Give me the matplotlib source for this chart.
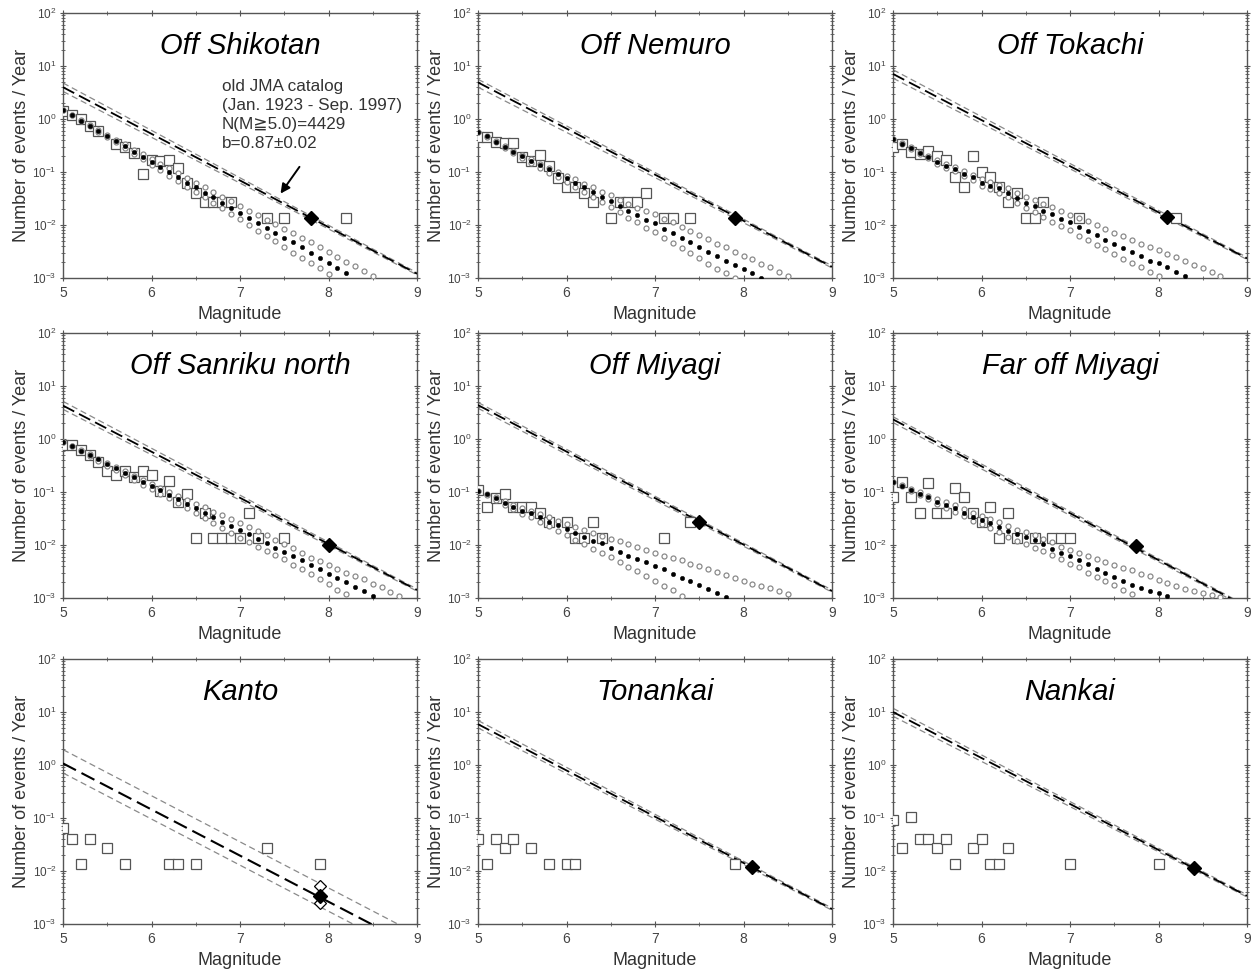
import numpy as np
import matplotlib
matplotlib.use("Agg")
import matplotlib.pyplot as plt
from matplotlib.ticker import LogLocator, MultipleLocator, NullFormatter

plt.rcParams['font.family'] = ['Liberation Sans', 'DejaVu Sans']

# ---------------------------------------------------------------------------
# data: squares = observed rate (events / year), dot series = log10 rate
# at magnitudes 5.0, 5.1, 5.2 ... ; lines = log10 rate at M5 and M9
# ---------------------------------------------------------------------------

# Off Shikotan
SHIKOTAN_SQ_M = [5.0, 5.1, 5.2, 5.3, 5.4, 5.6, 5.7, 5.8, 5.9, 6.0, 6.1, 6.2, 6.3,
                 6.4, 6.5, 6.6, 6.7, 6.8, 6.9, 7.3, 7.5, 8.2]
SHIKOTAN_SQ_N = [1.40, 1.20, 1.00, 0.75, 0.60, 0.34, 0.30, 0.23, 0.093, 0.17,
                 0.16, 0.17, 0.12, 0.063, 0.04, 0.027, 0.027, 0.027, 0.027,
                 0.0133, 0.0133, 0.0133]
SHIKOTAN_MEAN = [0.17, 0.08, -0.03, -0.13, -0.22, -0.32, -0.41, -0.51, -0.62,
                 -0.71, -0.81, -0.90, -1.00, -1.09, -1.21, -1.29, -1.39, -1.48,
                 -1.58, -1.67, -1.77, -1.86, -1.96, -2.05, -2.15, -2.24, -2.33,
                 -2.42, -2.52, -2.62, -2.71, -2.81, -2.90]
SHIKOTAN_UPPER = [0.17, 0.08, -0.02, -0.12, -0.21, -0.30, -0.39, -0.48, -0.58,
                  -0.66, -0.75, -0.84, -0.93, -1.02, -1.11, -1.20, -1.28, -1.37,
                  -1.47, -1.55, -1.64, -1.73, -1.82, -1.91, -1.99, -2.07, -2.16,
                  -2.25, -2.33, -2.42, -2.50, -2.60, -2.69, -2.77, -2.86, -2.96]
SHIKOTAN_LOWER = [0.17, 0.07, -0.04, -0.14, -0.24, -0.34, -0.44, -0.55, -0.66,
                  -0.76, -0.87, -0.97, -1.07, -1.17, -1.28, -1.38, -1.48, -1.58,
                  -1.68, -1.79, -1.89, -2.00, -2.11, -2.21, -2.31, -2.42, -2.52,
                  -2.62, -2.72, -2.82, -2.93]
SHIKOTAN_LINE = [0.60, -2.92]
SHIKOTAN_LINE_UP = [0.68, -2.90]
SHIKOTAN_LINE_LO = [0.52, -2.94]
SHIKOTAN_CHAR = [7.8, 0.0133]

# Off Nemuro
NEMURO_SQ_M = [5.0, 5.1, 5.2, 5.3, 5.4, 5.5, 5.6, 5.7, 5.8, 5.9, 6.0, 6.1, 6.2,
               6.3, 6.5, 6.6, 6.7, 6.8, 6.9, 7.1, 7.2, 7.4]
NEMURO_SQ_N = [0.45, 0.45, 0.37, 0.36, 0.36, 0.195, 0.16, 0.21, 0.13, 0.077,
               0.052, 0.052, 0.04, 0.027, 0.0133, 0.027, 0.027, 0.027, 0.04,
               0.0133, 0.0133, 0.0133]
NEMURO_MEAN = [-0.24, -0.33, -0.43, -0.52, -0.62, -0.70, -0.79, -0.87, -0.95,
               -1.04, -1.12, -1.20, -1.29, -1.37, -1.47, -1.55, -1.64, -1.73,
               -1.81, -1.90, -1.97, -2.07, -2.16, -2.24, -2.32, -2.41, -2.50,
               -2.58, -2.67, -2.75, -2.83, -2.91, -3.00]
NEMURO_UPPER = [-0.24, -0.33, -0.42, -0.51, -0.60, -0.68, -0.76, -0.84, -0.92,
                -1.00, -1.07, -1.14, -1.22, -1.29, -1.37, -1.44, -1.52, -1.60,
                -1.67, -1.73, -1.80, -1.88, -1.95, -2.04, -2.12, -2.18, -2.27,
                -2.35, -2.42, -2.51, -2.58, -2.65, -2.73, -2.80, -2.89, -2.96]
NEMURO_LOWER = [-0.24, -0.34, -0.44, -0.54, -0.64, -0.73, -0.83, -0.92, -1.01,
                -1.10, -1.19, -1.28, -1.38, -1.47, -1.57, -1.66, -1.76, -1.86,
                -1.95, -2.05, -2.13, -2.24, -2.34, -2.43, -2.53, -2.62, -2.73,
                -2.83, -2.91, -3.00]
NEMURO_LINE = [0.69, -2.79]
NEMURO_LINE_UP = [0.75, -2.77]
NEMURO_LINE_LO = [0.60, -2.81]
NEMURO_CHAR = [7.9, 0.0135]

# Off Tokachi
TOKACHI_SQ_M = [5.0, 5.1, 5.2, 5.3, 5.4, 5.5, 5.6, 5.7, 5.8, 5.9, 6.0, 6.1, 6.2,
                6.3, 6.4, 6.5, 6.6, 6.7, 7.1, 8.2]
TOKACHI_SQ_N = [0.30, 0.34, 0.24, 0.22, 0.25, 0.20, 0.17, 0.08, 0.053, 0.20,
                0.10, 0.08, 0.053, 0.027, 0.04, 0.0133, 0.0133, 0.027, 0.0133,
                0.0133]
TOKACHI_MEAN = [-0.38, -0.47, -0.54, -0.64, -0.71, -0.81, -0.88, -0.94, -1.03,
                -1.09, -1.20, -1.26, -1.31, -1.39, -1.49, -1.58, -1.65, -1.73,
                -1.80, -1.88, -1.95, -2.04, -2.11, -2.19, -2.28, -2.35, -2.43,
                -2.51, -2.58, -2.67, -2.72, -2.80, -2.89, -2.97]
TOKACHI_UPPER = [-0.38, -0.46, -0.53, -0.62, -0.69, -0.78, -0.85, -0.91, -0.99,
                 -1.05, -1.14, -1.19, -1.24, -1.31, -1.39, -1.47, -1.53, -1.60,
                 -1.66, -1.74, -1.81, -1.86, -1.93, -2.00, -2.07, -2.15, -2.21,
                 -2.28, -2.35, -2.41, -2.48, -2.55, -2.61, -2.68, -2.75, -2.82,
                 -2.89, -2.96]
TOKACHI_LOWER = [-0.38, -0.48, -0.56, -0.66, -0.74, -0.84, -0.92, -0.99, -1.08,
                 -1.15, -1.26, -1.33, -1.39, -1.48, -1.58, -1.67, -1.76, -1.85,
                 -1.94, -2.02, -2.10, -2.20, -2.28, -2.37, -2.46, -2.55, -2.65,
                 -2.72, -2.80, -2.89, -2.97]
TOKACHI_LINE = [0.85, -2.63]
TOKACHI_LINE_UP = [0.93, -2.61]
TOKACHI_LINE_LO = [0.77, -2.65]
TOKACHI_CHAR = [8.1, 0.014]

# Off Sanriku north
SANRIKU_SQ_M = [5.0, 5.1, 5.2, 5.3, 5.4, 5.5, 5.6, 5.7, 5.8, 5.9, 6.0, 6.1, 6.2,
                6.3, 6.4, 6.5, 6.6, 6.7, 6.8, 6.9, 7.0, 7.1, 7.2, 7.5]
SANRIKU_SQ_N = [0.78, 0.78, 0.62, 0.50, 0.37, 0.25, 0.21, 0.25, 0.195, 0.25,
                0.21, 0.105, 0.16, 0.066, 0.091, 0.0133, 0.04, 0.0133, 0.0133,
                0.0133, 0.0133, 0.04, 0.0133, 0.0133]
SANRIKU_MEAN = [-0.05, -0.13, -0.22, -0.30, -0.38, -0.47, -0.55, -0.64, -0.72,
                -0.81, -0.89, -0.96, -1.05, -1.13, -1.22, -1.31, -1.39, -1.48,
                -1.56, -1.64, -1.72, -1.80, -1.88, -1.96, -2.05, -2.13, -2.21,
                -2.29, -2.37, -2.45, -2.54, -2.62, -2.70, -2.79, -2.87, -2.96]
SANRIKU_UPPER = [-0.05, -0.13, -0.21, -0.29, -0.37, -0.45, -0.53, -0.61, -0.69,
                 -0.77, -0.85, -0.92, -1.00, -1.07, -1.15, -1.22, -1.29, -1.37,
                 -1.44, -1.51, -1.58, -1.66, -1.73, -1.81, -1.91, -1.98, -2.05,
                 -2.16, -2.24, -2.31, -2.38, -2.45, -2.52, -2.59, -2.65, -2.73,
                 -2.79, -2.89, -2.96]
SANRIKU_LOWER = [-0.05, -0.14, -0.23, -0.32, -0.41, -0.50, -0.59, -0.68, -0.77,
                 -0.86, -0.95, -1.03, -1.12, -1.21, -1.30, -1.40, -1.49, -1.58,
                 -1.68, -1.77, -1.86, -1.95, -2.04, -2.12, -2.19, -2.27, -2.37,
                 -2.46, -2.55, -2.65, -2.74, -2.84, -2.93]
SANRIKU_LINE = [0.63, -2.85]
SANRIKU_LINE_UP = [0.71, -2.83]
SANRIKU_LINE_LO = [0.56, -2.87]
SANRIKU_CHAR = [8.0, 0.0102]

# Off Miyagi
MIYAGI_SQ_M = [5.0, 5.1, 5.2, 5.3, 5.4, 5.5, 5.6, 5.7, 5.8, 6.0, 6.1, 6.2, 6.3,
               6.4, 7.1, 7.4]
MIYAGI_SQ_N = [0.107, 0.053, 0.076, 0.091, 0.053, 0.053, 0.053, 0.04, 0.027,
               0.027, 0.0133, 0.0133, 0.027, 0.0133, 0.0133, 0.027]
MIYAGI_MEAN = [-0.99, -1.04, -1.12, -1.20, -1.28, -1.35, -1.40, -1.48, -1.56,
               -1.63, -1.69, -1.77, -1.85, -1.92, -1.97, -2.06, -2.13, -2.20,
               -2.26, -2.33, -2.40, -2.46, -2.55, -2.62, -2.68, -2.76, -2.83,
               -2.90, -2.98]
MIYAGI_UPPER = [-0.99, -1.03, -1.10, -1.17, -1.24, -1.30, -1.35, -1.42, -1.48,
                -1.54, -1.60, -1.66, -1.72, -1.78, -1.83, -1.88, -1.93, -1.99,
                -2.04, -2.10, -2.15, -2.20, -2.24, -2.29, -2.36, -2.40, -2.45,
                -2.51, -2.56, -2.62, -2.67, -2.73, -2.78, -2.82, -2.87, -2.93]
MIYAGI_LOWER = [-0.99, -1.06, -1.15, -1.24, -1.33, -1.41, -1.48, -1.57, -1.65,
                -1.74, -1.82, -1.91, -1.99, -2.07, -2.15, -2.23, -2.33, -2.42,
                -2.49, -2.58, -2.68, -2.77, -2.85, -2.96]
MIYAGI_LINE = [0.64, -2.87]
MIYAGI_LINE_UP = [0.69, -2.85]
MIYAGI_LINE_LO = [0.58, -2.89]
MIYAGI_CHAR = [7.5, 0.0266]

# Far off Miyagi
FARMIYAGI_SQ_M = [5.0, 5.1, 5.2, 5.3, 5.4, 5.5, 5.6, 5.7, 5.8, 5.9, 6.0, 6.1,
                  6.2, 6.3, 6.4, 6.6, 6.8, 6.9, 7.0]
FARMIYAGI_SQ_N = [0.08, 0.155, 0.08, 0.04, 0.145, 0.04, 0.04, 0.117, 0.08, 0.04,
                  0.027, 0.053, 0.0133, 0.04, 0.0133, 0.0133, 0.0133, 0.0133,
                  0.0133]
FARMIYAGI_MEAN = [-0.82, -0.88, -0.96, -1.03, -1.10, -1.18, -1.25, -1.31, -1.39,
                  -1.47, -1.53, -1.59, -1.66, -1.73, -1.80, -1.85, -1.91, -1.99,
                  -2.07, -2.15, -2.21, -2.29, -2.36, -2.45, -2.52, -2.60, -2.68,
                  -2.75, -2.82, -2.87, -2.91, -2.97]
FARMIYAGI_UPPER = [-0.82, -0.87, -0.94, -1.00, -1.07, -1.13, -1.19, -1.25,
                   -1.32, -1.39, -1.45, -1.51, -1.57, -1.64, -1.71, -1.75, -1.82,
                   -1.88, -1.94, -2.04, -2.09, -2.15, -2.20, -2.26, -2.32, -2.37,
                   -2.43, -2.48, -2.54, -2.59, -2.66, -2.71, -2.78, -2.83, -2.86,
                   -2.91, -2.95, -2.98]
FARMIYAGI_LOWER = [-0.82, -0.89, -0.98, -1.06, -1.14, -1.22, -1.30, -1.37,
                   -1.46, -1.54, -1.61, -1.68, -1.76, -1.84, -1.92, -1.98, -2.05,
                   -2.12, -2.19, -2.27, -2.35, -2.42, -2.52, -2.60, -2.68, -2.76,
                   -2.84, -2.92]
FARMIYAGI_LINE = [0.37, -3.17]
FARMIYAGI_LINE_UP = [0.42, -3.15]
FARMIYAGI_LINE_LO = [0.31, -3.19]
FARMIYAGI_CHAR = [7.75, 0.0096]

# Kanto (no model dots, open diamonds = bounds at the characteristic point)
KANTO_SQ_M = [5.0, 5.1, 5.2, 5.3, 5.5, 5.7, 6.2, 6.3, 6.5, 7.3, 7.9]
KANTO_SQ_N = [0.066, 0.04, 0.0133, 0.04, 0.027, 0.0133, 0.0133, 0.0133, 0.0133,
              0.027, 0.0133]
KANTO_LINE = [0.03, -3.45]
KANTO_LINE_UP = [0.29, -3.19]
KANTO_LINE_LO = [-0.15, -3.63]
KANTO_CHAR = [7.9, 0.0034]
KANTO_CHAR_BOUNDS = [0.0051, 0.0025]

# Tonankai
TONANKAI_SQ_M = [5.0, 5.1, 5.2, 5.3, 5.4, 5.6, 5.8, 6.0, 6.1, 7.9]
TONANKAI_SQ_N = [0.04, 0.0133, 0.04, 0.027, 0.04, 0.027, 0.0133, 0.0133, 0.0133,
                 0.0133]
TONANKAI_LINE = [0.77, -2.72]
TONANKAI_LINE_UP = [0.84, -2.70]
TONANKAI_LINE_LO = [0.70, -2.74]
TONANKAI_CHAR = [8.1, 0.0117]

# Nankai
NANKAI_SQ_M = [5.0, 5.1, 5.2, 5.3, 5.4, 5.5, 5.6, 5.7, 5.9, 6.0, 6.1, 6.2, 6.3,
               7.0, 8.0]
NANKAI_SQ_N = [0.091, 0.027, 0.106, 0.04, 0.04, 0.027, 0.04, 0.0133, 0.027,
               0.04, 0.0133, 0.0133, 0.027, 0.0133, 0.0133]
NANKAI_LINE = [1.00, -2.47]
NANKAI_LINE_UP = [1.07, -2.45]
NANKAI_LINE_LO = [0.92, -2.49]
NANKAI_CHAR = [8.4, 0.0112]

LINE_M = [5.0, 9.0]

ANNOTATION = ("old JMA catalog\n(Jan. 1923 - Sep. 1997)\n"
              "N(M\u22675.0)=4429\nb=0.87\u00b10.02")

panels = [
    ("Off Shikotan", SHIKOTAN_SQ_M, SHIKOTAN_SQ_N, SHIKOTAN_MEAN, SHIKOTAN_UPPER,
     SHIKOTAN_LOWER, SHIKOTAN_LINE, SHIKOTAN_LINE_UP, SHIKOTAN_LINE_LO,
     SHIKOTAN_CHAR),
    ("Off Nemuro", NEMURO_SQ_M, NEMURO_SQ_N, NEMURO_MEAN, NEMURO_UPPER,
     NEMURO_LOWER, NEMURO_LINE, NEMURO_LINE_UP, NEMURO_LINE_LO, NEMURO_CHAR),
    ("Off Tokachi", TOKACHI_SQ_M, TOKACHI_SQ_N, TOKACHI_MEAN, TOKACHI_UPPER,
     TOKACHI_LOWER, TOKACHI_LINE, TOKACHI_LINE_UP, TOKACHI_LINE_LO,
     TOKACHI_CHAR),
    ("Off Sanriku north", SANRIKU_SQ_M, SANRIKU_SQ_N, SANRIKU_MEAN,
     SANRIKU_UPPER, SANRIKU_LOWER, SANRIKU_LINE, SANRIKU_LINE_UP,
     SANRIKU_LINE_LO, SANRIKU_CHAR),
    ("Off Miyagi", MIYAGI_SQ_M, MIYAGI_SQ_N, MIYAGI_MEAN, MIYAGI_UPPER,
     MIYAGI_LOWER, MIYAGI_LINE, MIYAGI_LINE_UP, MIYAGI_LINE_LO, MIYAGI_CHAR),
    ("Far off Miyagi", FARMIYAGI_SQ_M, FARMIYAGI_SQ_N, FARMIYAGI_MEAN,
     FARMIYAGI_UPPER, FARMIYAGI_LOWER, FARMIYAGI_LINE, FARMIYAGI_LINE_UP,
     FARMIYAGI_LINE_LO, FARMIYAGI_CHAR),
    ("Kanto", KANTO_SQ_M, KANTO_SQ_N, None, None, None, KANTO_LINE,
     KANTO_LINE_UP, KANTO_LINE_LO, KANTO_CHAR),
    ("Tonankai", TONANKAI_SQ_M, TONANKAI_SQ_N, None, None, None, TONANKAI_LINE,
     TONANKAI_LINE_UP, TONANKAI_LINE_LO, TONANKAI_CHAR),
    ("Nankai", NANKAI_SQ_M, NANKAI_SQ_N, None, None, None, NANKAI_LINE,
     NANKAI_LINE_UP, NANKAI_LINE_LO, NANKAI_CHAR),
]

GREY = "#555555"
LIGHT = "#8a8a8a"


def bins(values):
    # magnitude bins 5.0, 5.1, ... for a log10-rate list
    return 5.0 + 0.1 * np.arange(len(values))


fig = plt.figure(figsize=(12.52, 9.77), dpi=100)
W, H = 1252.0, 977.0
lefts = [63, 478, 893]
bottoms = [278, 598, 924]

for i, (title, sq_m, sq_n, mean, upper, lower, line, line_up, line_lo,
        char) in enumerate(panels):
    row, col = divmod(i, 3)
    ax = fig.add_axes([lefts[col] / W, 1 - bottoms[row] / H, 354 / W, 265 / H])
    ax.set_yscale("log")
    ax.set_xlim(5, 9)
    ax.set_ylim(1e-3, 1e2)

    # Gutenberg-Richter line and its bounds
    is_kanto = title == "Kanto"
    ax.plot(LINE_M, 10 ** np.array(line_up), color=LIGHT, lw=0.9,
            ls=(0, (5, 3)), zorder=2)
    ax.plot(LINE_M, 10 ** np.array(line_lo), color=LIGHT, lw=0.9,
            ls=(0, (5, 3)), zorder=2)
    ax.plot(LINE_M, 10 ** np.array(line), color="black",
            lw=1.5 if is_kanto else 1.3, ls=(0, (7, 3)), zorder=3)

    # observed rates
    ax.plot(sq_m, sq_n, ls="none", marker="s", ms=6.5, mfc="white",
            mec=GREY, mew=0.9, zorder=4)

    # model (mean and bounds)
    if mean is not None:
        ax.plot(bins(upper), 10 ** np.array(upper), ls="none", marker="o",
                ms=3.6, mfc="white", mec=LIGHT, mew=0.9, zorder=5)
        ax.plot(bins(lower), 10 ** np.array(lower), ls="none", marker="o",
                ms=3.6, mfc="white", mec=LIGHT, mew=0.9, zorder=5)
        ax.plot(bins(mean), 10 ** np.array(mean), ls="none", marker="o",
                ms=3.2, mfc="black", mec="black", mew=0.3, zorder=6)

    # characteristic earthquake
    if is_kanto:
        ax.plot([char[0]] * 2, KANTO_CHAR_BOUNDS, ls="none", marker="D",
                ms=6.5, mfc="white", mec="black", mew=0.9, zorder=6)
    ax.plot([char[0]], [char[1]], ls="none", marker="D", ms=7.5,
            mfc="black", mec="black", zorder=7)

    ax.text(0.5, 0.875, title, transform=ax.transAxes, ha="center",
            va="center", fontsize=21, style="italic", color="black")

    if i == 0:
        ax.text(0.449, 0.75, ANNOTATION, transform=ax.transAxes, ha="left",
                va="top", fontsize=12.3, color="#333333", linespacing=1.33)
        ax.annotate("", xy=(7.44, 10 ** -1.45), xytext=(7.69, 10 ** -0.86),
                    arrowprops=dict(arrowstyle="-|>", color="black", lw=1.4,
                                    mutation_scale=14))

    # axes cosmetics
    for sp in ax.spines.values():
        sp.set_color(GREY)
        sp.set_linewidth(1.0)
    ax.xaxis.set_major_locator(MultipleLocator(1))
    ax.xaxis.set_minor_locator(MultipleLocator(0.5))
    ax.yaxis.set_major_locator(LogLocator(base=10, numticks=10))
    ax.yaxis.set_minor_locator(LogLocator(base=10, subs=np.arange(2, 10),
                                          numticks=10))
    ax.yaxis.set_minor_formatter(NullFormatter())
    ax.tick_params(which="both", direction="inout", top=True, right=True,
                   color=GREY)
    ax.tick_params(which="major", length=5, width=0.8)
    ax.tick_params(which="minor", length=2.5, width=0.6)
    ax.tick_params(axis="x", labelsize=10, labelcolor="#444444", pad=3)
    ax.tick_params(axis="y", labelsize=8.5, labelcolor="#444444", pad=2)

    ax.set_xlabel("Magnitude", fontsize=13, color="#333333")
    ax.set_ylabel("Number of events / Year", fontsize=13, color="#333333")
    ax.xaxis.set_label_coords(0.5, -0.105)
    ax.yaxis.set_label_coords(-0.092, 0.5)

fig.savefig("out.png", dpi=100)
